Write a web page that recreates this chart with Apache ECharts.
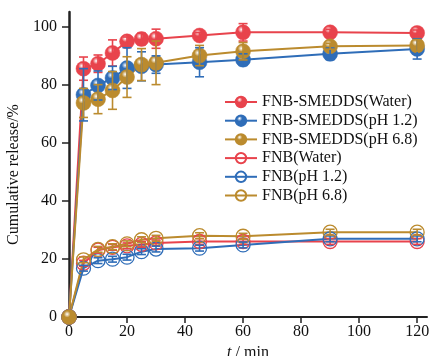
<!DOCTYPE html>
<html><head><meta charset="utf-8">
<script src="https://cdn.jsdelivr.net/npm/echarts@6/dist/echarts.min.js"></script>
<style>html,body{margin:0;padding:0;background:#fff}#c{width:430px;height:356px}</style>
</head><body><div id="c"></div>
<script>
var times = [0, 5, 10, 15, 20, 25, 30, 45, 60, 90, 120];
var seriesNames = ['FNB-SMEDDS(Water)', 'FNB-SMEDDS(pH 1.2)', 'FNB-SMEDDS(pH 6.8)', 'FNB(Water)', 'FNB(pH 1.2)', 'FNB(pH 6.8)'];
var smeddsWater = [0, 85.5, 87.2, 90.9, 94.9, 95.7, 95.8, 96.9, 98.0, 98.0, 97.8];
var smeddsWaterErr = [0, 4, 3, 4.5, 1.5, 2, 3.3, 1, 3, 1, 1];
var smeddsPH12 = [0, 76.5, 79.7, 82.3, 85.7, 86.3, 86.9, 87.7, 88.6, 90.6, 92.3];
var smeddsPH12Err = [0, 9, 5, 4, 7, 5, 3, 5, 2, 2, 3.5];
var smeddsPH68 = [0, 73.7, 75.0, 78.0, 82.6, 86.9, 87.5, 90.0, 91.5, 93.2, 93.5];
var smeddsPH68Err = [0, 5, 5, 6.5, 7, 5.5, 7.5, 3.5, 3, 1, 2];
var fnbWater = [0, 18.5, 23.0, 24.0, 24.5, 25.0, 25.5, 26.0, 26.0, 26.0, 26.0];
var fnbWaterErr = [0, 1, 1, 1, 1, 1, 1, 1, 1, 1, 1];
var fnbPH12 = [0, 16.8, 19.4, 19.9, 20.6, 22.5, 23.4, 23.7, 24.8, 26.9, 26.9];
var fnbPH12Err = [0, 1, 1, 1, 1, 1, 1, 1, 1, 1, 1];
var fnbPH68 = [0, 19.7, 23.3, 24.2, 25.2, 26.6, 27.1, 28.0, 27.8, 29.2, 29.2];
var fnbPH68Err = [0, 1, 1, 1, 1, 1, 1, 1, 1, 1, 1];
var xTicks = [0, 20, 40, 60, 80, 100, 120];
var yTicks = [0, 20, 40, 60, 80, 100];

var RED = '#E8434C', BLUE = '#2F6DB8', GOLD = '#BB8B2E';
var FONT = '"Liberation Serif","Times New Roman",serif';

function sphere(c) {
  return {type: 'radial', x: 0.38, y: 0.32, r: 0.72,
    colorStops: [{offset: 0, color: '#ffffff'}, {offset: 0.3, color: c}, {offset: 1, color: c}]};
}
function pairs(vals) { return times.map(function (t, i) { return [t, vals[i]]; }); }
function errData(vals, errs) { return times.map(function (t, i) { return [t, vals[i] - errs[i], vals[i] + errs[i]]; }); }

function lineSeries(name, vals, color, filled) {
  return {
    name: name, type: 'line', data: pairs(vals), z: filled ? 4 : 3,
    symbol: 'circle', symbolSize: filled ? 15 : 14,
    lineStyle: {color: color, width: 2},
    itemStyle: filled ? {color: sphere(color), borderColor: color, borderWidth: 0.5}
                      : {color: 'rgba(255,255,255,0)', borderColor: color, borderWidth: 1.3},
    emphasis: {disabled: true}
  };
}
function errSeries(vals, errs, color, filled) {
  return {
    type: 'custom', data: errData(vals, errs), z: filled ? 5 : 4, silent: true,
    encode: {x: 0, y: [1, 2]},
    renderItem: function (params, api) {
      var x = api.value(0), lo = api.value(1), hi = api.value(2);
      if (hi - lo <= 0) return null;
      var a = api.coord([x, hi]), b = api.coord([x, lo]);
      var w = 4.5;
      var st = {stroke: color, lineWidth: 1.6};
      return {type: 'group', children: [
        {type: 'line', shape: {x1: a[0], y1: a[1], x2: b[0], y2: b[1]}, style: st},
        {type: 'line', shape: {x1: a[0] - w, y1: a[1], x2: a[0] + w, y2: a[1]}, style: st},
        {type: 'line', shape: {x1: b[0] - w, y1: b[1], x2: b[0] + w, y2: b[1]}, style: st}
      ]};
    }
  };
}

var chart = echarts.init(document.getElementById('c'), null, {renderer: 'canvas'});
chart.setOption({
  animation: false,
  backgroundColor: '#fff',
  textStyle: {fontFamily: FONT},
  grid: {left: 69, right: 3, top: 12, bottom: 39, containLabel: false, outerBoundsMode: 'none'},
  legend: {
    data: seriesNames, orient: 'vertical', left: 219, top: 89,
    itemWidth: 32, itemHeight: 13, itemGap: 2.7,
    textStyle: {fontFamily: FONT, fontSize: 16, color: '#111', lineHeight: 16}
  },
  xAxis: {
    type: 'value', min: 0, max: 123.4, interval: 20,
    name: '{i|t} / min', nameLocation: 'middle', nameGap: 18,
    nameTextStyle: {fontFamily: FONT, fontSize: 16, color: '#111',
      rich: {i: {fontFamily: FONT, fontSize: 16, fontStyle: 'italic', color: '#111'}}},
    axisLine: {show: true, onZero: false, lineStyle: {color: '#222', width: 2}},
    axisTick: {show: true, inside: false, length: 6, customValues: xTicks, lineStyle: {color: '#222', width: 1.5}},
    axisLabel: {customValues: xTicks, margin: 7, fontFamily: FONT, fontSize: 16, color: '#111'},
    splitLine: {show: false}
  },
  yAxis: {
    type: 'value', min: 0, max: 105, interval: 20,
    name: 'Cumulative release/%', nameLocation: 'middle', nameGap: 41,
    nameTextStyle: {fontFamily: FONT, fontSize: 16, color: '#111', padding: [0, 20, 0, 0]},
    axisLine: {show: true, onZero: false, lineStyle: {color: '#222', width: 2.5}},
    axisTick: {show: true, inside: false, length: 7, customValues: yTicks, lineStyle: {color: '#222', width: 1.5}},
    axisLabel: {customValues: yTicks, margin: 12, fontFamily: FONT, fontSize: 16, color: '#111'},
    splitLine: {show: false}
  },
  series: [
    lineSeries(seriesNames[3], fnbWater, RED, false),
    lineSeries(seriesNames[4], fnbPH12, BLUE, false),
    lineSeries(seriesNames[5], fnbPH68, GOLD, false),
    errSeries(fnbWater, fnbWaterErr, RED, false),
    errSeries(fnbPH12, fnbPH12Err, BLUE, false),
    errSeries(fnbPH68, fnbPH68Err, GOLD, false),
    lineSeries(seriesNames[0], smeddsWater, RED, true),
    lineSeries(seriesNames[1], smeddsPH12, BLUE, true),
    lineSeries(seriesNames[2], smeddsPH68, GOLD, true),
    errSeries(smeddsWater, smeddsWaterErr, RED, true),
    errSeries(smeddsPH12, smeddsPH12Err, BLUE, true),
    errSeries(smeddsPH68, smeddsPH68Err, GOLD, true)
  ]
});
</script></body></html>
